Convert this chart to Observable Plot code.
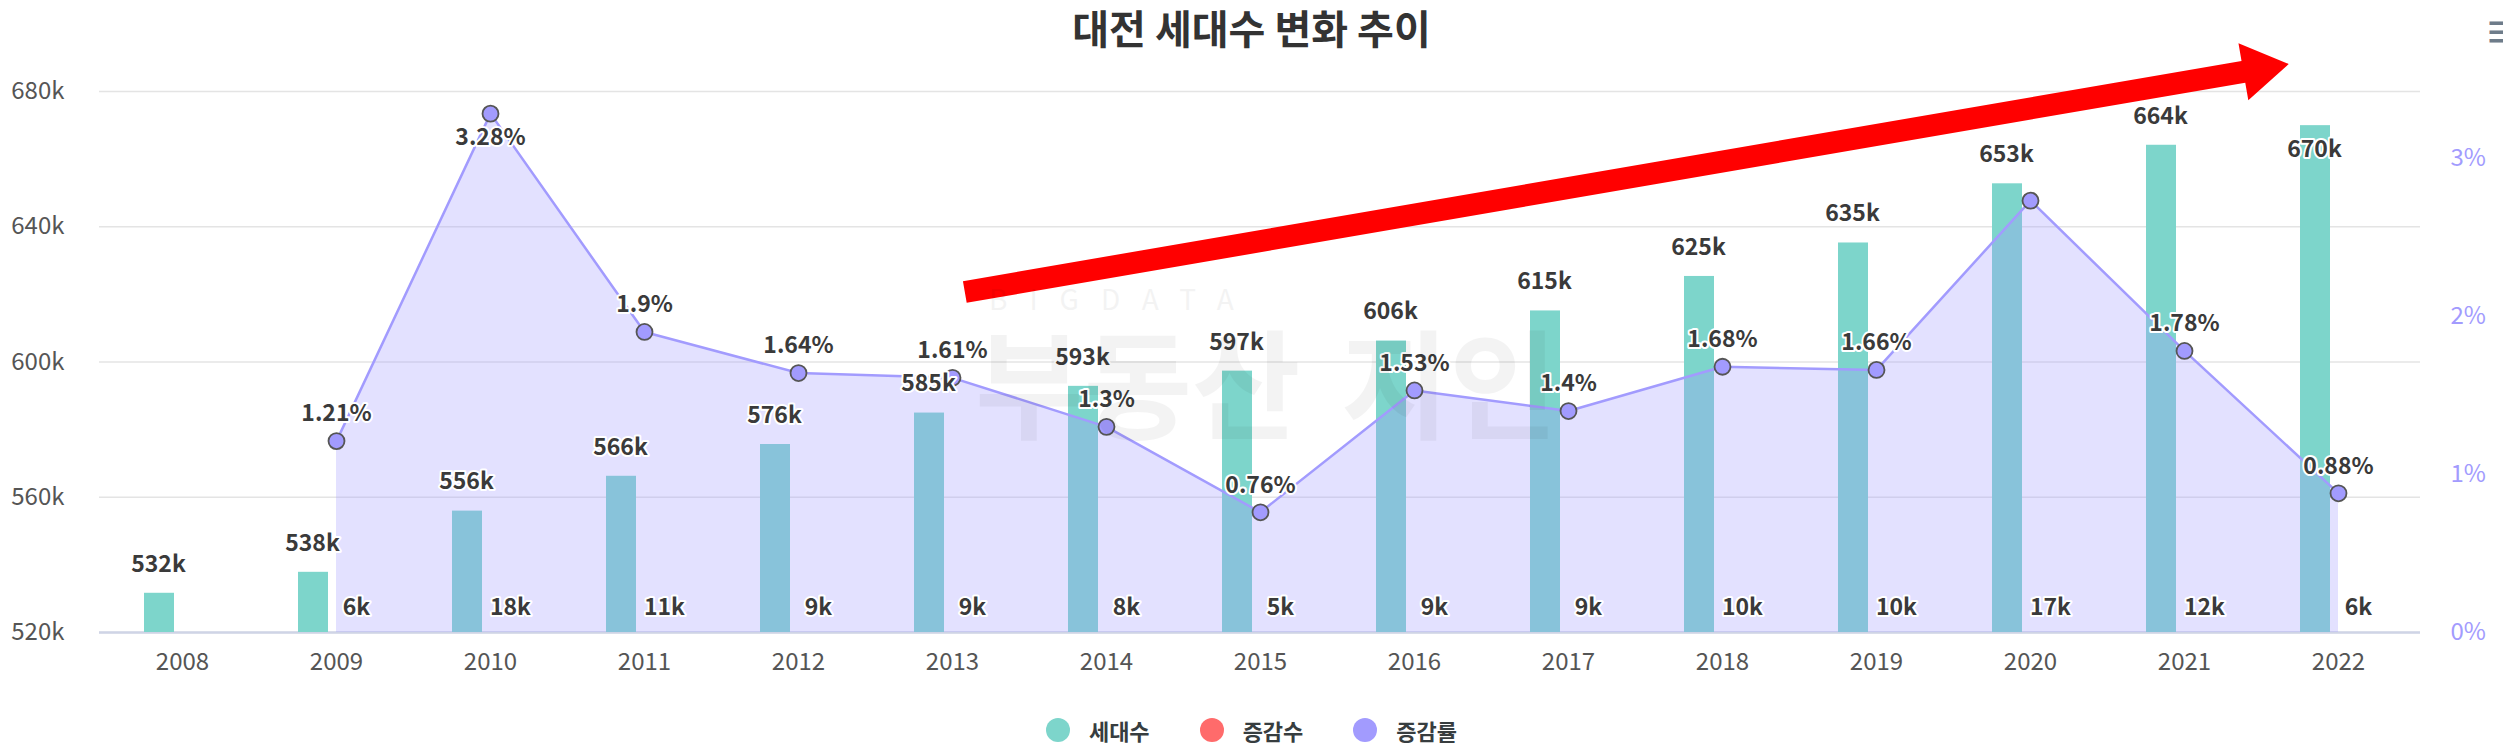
<!DOCTYPE html>
<html>
<head>
<meta charset="utf-8">
<script src="https://cdn.jsdelivr.net/npm/d3@7"></script>
<script src="https://cdn.jsdelivr.net/npm/@observablehq/plot@0.6"></script>
<style>
  html, body { margin: 0; padding: 0; background: #fff; }
  body { font-family: "Noto Sans CJK KR", "Noto Sans", sans-serif; }
  #wrap { position: relative; width: 2503px; height: 750px; overflow: hidden; background: #fff; }
  #chart { position: absolute; left: 0; top: 0; }
  #title { position: absolute; left: 0; top: 0; width: 2503px; text-align: center;
           font-size: 40px; font-weight: 700; color: #333; line-height: 54px; }
  #menu { position: absolute; left: 2484px; top: 2px; font-size: 38px; color: #6e7c8a; font-weight: 700; }
  #watermark { position: absolute; left: 975px; top: 282px; color: #000; opacity: 0.045; pointer-events: none; }
  #watermark .small { font-size: 28px; letter-spacing: 22px; font-weight: 400; line-height: 32px; margin-left: 14px; }
  #watermark .big { font-size: 118px; font-weight: 700; line-height: 130px; white-space: nowrap; }
  #watermark .big span + span { margin-left: 40px; }
  #legend { position: absolute; left: 0; top: 714px; width: 2503px; display: flex; justify-content: center;
            gap: 50px; font-size: 22px; font-weight: 700; color: #373d3f; }
  #legend .item { display: flex; align-items: center; gap: 19px; }
  #legend .sw { width: 24px; height: 24px; border-radius: 50%; }
</style>
</head>
<body>
<div id="wrap">
  <div id="chart"></div>
  <div id="watermark"><div class="small">BIGDATA</div><div class="big"><span>부동산</span><span>지인</span></div></div>
  <div id="title"></div>
  <div id="menu">≡</div>
  <div id="legend"></div>
</div>
<script>
// ---- data ----
const years = [2008, 2009, 2010, 2011, 2012, 2013, 2014, 2015, 2016, 2017, 2018, 2019, 2020, 2021, 2022];
const households = [531600, 537800, 555900, 566200, 575600, 584900, 592800, 597300, 606200, 615100, 625300, 635200, 652700, 664100, 669900];
const increases = [null, 6000, 18000, 11000, 9000, 9000, 8000, 5000, 9000, 9000, 10000, 10000, 17000, 12000, 6000];
const rates = [null, 1.21, 3.28, 1.9, 1.64, 1.61, 1.3, 0.76, 1.53, 1.4, 1.68, 1.66, 2.73, 1.78, 0.88];
const rateLabelHiddenYears = [2020];
const leftTicks = [520000, 560000, 600000, 640000, 680000];
const rightTicks = [0, 1, 2, 3];
const seriesNames = ["세대수", "증감수", "증감률"];
const titleText = "대전 세대수 변화 추이";
const arrowData = [{x1: "2013", y1: 619900, x2: "2022", y2: 690500}];

// ---- styles ----
const TEAL = "#7dd5cb", RED = "#ff6b6b", PURPLE = "#a29bfe";
const Y0 = 520000, Y1 = 680000, RATE_MAX = 3.42;
const rateToY = r => Y0 + r / RATE_MAX * (Y1 - Y0);
const yToRate = v => (v - Y0) / (Y1 - Y0) * RATE_MAX;
const fmtK = v => Math.round(v / 1000) + "k";

const rows = years.map((y, i) => ({year: String(y), households: households[i], inc: increases[i], rate: rates[i]}));
const incRows = rows.filter(d => d.inc != null);
const rateRows = rows.filter(d => d.rate != null);

const labelStyle = {fontSize: 23, fontWeight: 700, fill: "#3a3a3a", stroke: "white", strokeWidth: 4, paintOrder: "stroke"};
const LABEL_ROOM = 12000;

function blockArrow(index, scales, values) {
  const xs = scales.x;
  let bw = 0;
  if (xs && typeof xs.bandwidth === "function") bw = xs.bandwidth();
  else if (scales.scales && scales.scales.x && scales.scales.x.bandwidth) bw = scales.scales.x.bandwidth;
  const g = d3.create("svg:g");
  const shaftW = 22, headW = 58, headL = 46, insetStart = 13, insetEnd = 50;
  for (const i of index) {
    const ax = values.x1[i] + bw / 2, ay = values.y1[i];
    const bx = values.x2[i] + bw / 2, by = values.y2[i];
    const L = Math.hypot(bx - ax, by - ay), ux = (bx - ax) / L, uy = (by - ay) / L;
    const nx = -uy, ny = ux;
    const sx = ax + ux * insetStart, sy = ay + uy * insetStart;
    const tx = bx - ux * insetEnd, ty = by - uy * insetEnd;
    const hx = tx - ux * headL, hy = ty - uy * headL;
    const p = [
      [sx + nx * shaftW / 2, sy + ny * shaftW / 2],
      [hx + nx * shaftW / 2, hy + ny * shaftW / 2],
      [hx + nx * headW / 2, hy + ny * headW / 2],
      [tx, ty],
      [hx - nx * headW / 2, hy - ny * headW / 2],
      [hx - nx * shaftW / 2, hy - ny * shaftW / 2],
      [sx - nx * shaftW / 2, sy - ny * shaftW / 2]
    ];
    g.append("path").attr("d", "M" + p.map(q => q.join(",")).join("L") + "Z").attr("fill", "#ff0000");
  }
  return g.node();
}

const chart = Plot.plot({
  width: 2503,
  height: 705,
  marginLeft: 99,
  marginRight: 83,
  marginTop: 91,
  marginBottom: 73,
  style: {fontFamily: "'Noto Sans CJK KR', 'Noto Sans', sans-serif", background: "transparent", overflow: "visible"},
  x: {type: "band", domain: years.map(String), padding: 0},
  y: {domain: [Y0, Y1]},
  marks: [
    Plot.gridY({ticks: leftTicks, stroke: "#e4e4e4", strokeOpacity: 1, strokeWidth: 1.5}),
    Plot.ruleY([Y0], {stroke: "#cfd4e6", strokeWidth: 2.5}),
    Plot.barY(rows, {x: "year", y1: () => Y0, y2: "households", fill: TEAL, insetLeft: 39, insetRight: 85}),
    Plot.barY(incRows, {x: "year", y1: () => 0, y2: "inc", fill: RED, insetLeft: 85, insetRight: 39, clip: true}),
    Plot.areaY(rateRows, {x: "year", y1: () => Y0, y2: d => rateToY(d.rate), fill: PURPLE, fillOpacity: 0.3}),
    Plot.lineY(rateRows, {x: "year", y: d => rateToY(d.rate), stroke: PURPLE, strokeWidth: 2.5}),
    Plot.dot(rateRows, {x: "year", y: d => rateToY(d.rate), r: 8, fill: PURPLE, stroke: "#555", strokeWidth: 1.8}),
    Plot.text(rows.filter(d => d.households + LABEL_ROOM <= Y1), {x: "year", y: "households", text: d => fmtK(d.households), dx: -24, dy: -29, ...labelStyle}),
    Plot.text(rows.filter(d => d.households + LABEL_ROOM > Y1), {x: "year", y: "households", text: d => fmtK(d.households), dx: -24, dy: 24, ...labelStyle}),
    Plot.text(incRows, {x: "year", y: () => Y0, text: d => fmtK(d.inc), dx: 20, dy: -25, ...labelStyle}),
    Plot.text(rateRows.filter(d => !rateLabelHiddenYears.includes(+d.year) && rateToY(d.rate) + LABEL_ROOM <= Y1), {x: "year", y: d => rateToY(d.rate), text: d => d.rate + "%", dy: -27, ...labelStyle}),
    Plot.text(rateRows.filter(d => !rateLabelHiddenYears.includes(+d.year) && rateToY(d.rate) + LABEL_ROOM > Y1), {x: "year", y: d => rateToY(d.rate), text: d => d.rate + "%", dy: 24, ...labelStyle}),
    Plot.axisY({ticks: leftTicks, tickFormat: fmtK, tickSize: 0, tickPadding: 35, fontSize: 24, fill: "#555", label: null}),
    Plot.axisY({anchor: "right", ticks: rightTicks.map(rateToY), tickFormat: v => Math.round(yToRate(v)) + "%", tickSize: 0, tickPadding: 30, fontSize: 24, fill: PURPLE, label: null}),
    Plot.axisX({tickSize: 0, tickPadding: 20, fontSize: 24, fill: "#555", label: null}),
    Plot.link(arrowData, {x1: "x1", y1: "y1", x2: "x2", y2: "y2", render: blockArrow})
  ]
});
document.getElementById("chart").appendChild(chart);
document.getElementById("title").textContent = titleText;
const legend = document.getElementById("legend");
[TEAL, RED, PURPLE].forEach((c, i) => {
  const item = document.createElement("div");
  item.className = "item";
  item.innerHTML = `<span class="sw" style="background:${c}"></span><span>${seriesNames[i]}</span>`;
  legend.appendChild(item);
});
</script>
</body>
</html>
